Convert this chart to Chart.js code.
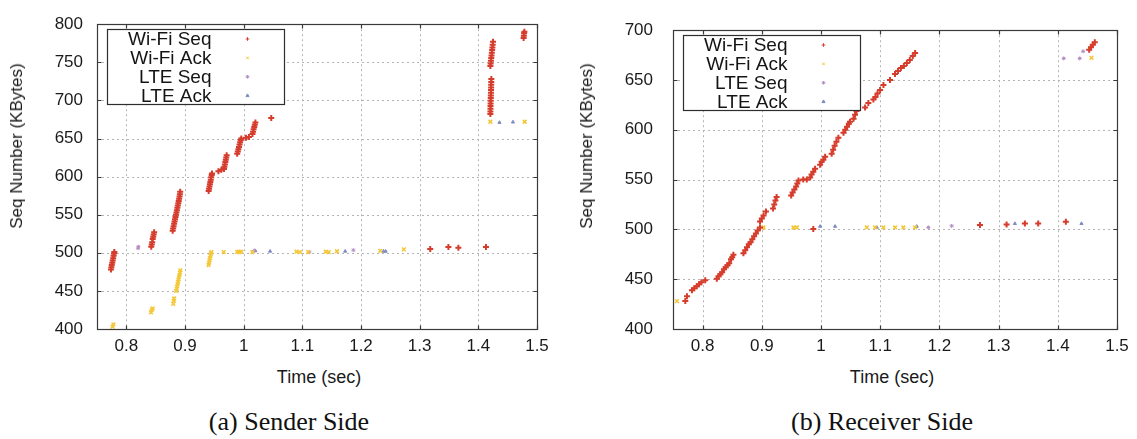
<!DOCTYPE html>
<html>
<head>
<meta charset="utf-8">
<script src="https://cdn.jsdelivr.net/npm/chart.js@4.4.1/dist/chart.umd.min.js"></script>
<style>
  html, body { margin:0; padding:0; background:#fff; }
  body { width:1137px; height:439px; position:relative; overflow:hidden; font-family:"Liberation Sans", Arial, sans-serif; color:#1a1a1a; }
  canvas { position:absolute; top:0; }
  #c1 { left:0; }
  #c2 { left:576px; }
  .ytitle { position:absolute; font-size:17px; white-space:nowrap; transform:translate(-50%,-50%) rotate(-90deg); }
  .xtitle { position:absolute; font-size:18px; white-space:nowrap; transform:translate(-50%,-50%); }
  .caption { position:absolute; font-family:"Liberation Serif", "Times New Roman", serif; font-size:26px; white-space:nowrap; transform:translate(-50%,-50%); color:#111; }
</style>
</head>
<body>
<canvas id="c1" width="560" height="360"></canvas>
<canvas id="c2" width="561" height="360"></canvas>
<div class="ytitle" style="left:17px; top:146px;">Seq Number (KBytes)</div>
<div class="ytitle" style="left:587px; top:146px;">Seq Number (KBytes)</div>
<div class="xtitle" style="left:319px; top:377px;">Time (sec)</div>
<div class="xtitle" style="left:892px; top:377px;">Time (sec)</div>
<div class="caption" style="left:289px; top:422px;">(a) Sender Side</div>
<div class="caption" style="left:882px; top:422px;">(b) Receiver Side</div>
<script>
// ---------- data ----------
const seriesNames = ['Wi-Fi Seq', 'Wi-Fi Ack', 'LTE Seq', 'LTE Ack'];
const xTickValues = [0.8, 0.9, 1.0, 1.1, 1.2, 1.3, 1.4, 1.5];
const xTickLabels = ['0.8', '0.9', '1', '1.1', '1.2', '1.3', '1.4', '1.5'];
const senderYTicks = [400, 450, 500, 550, 600, 650, 700, 750, 800];
const receiverYTicks = [400, 450, 500, 550, 600, 650, 700];

// Sender side: [time (s), seq (KB)]
const senderWifiSeq = [
  [0.7738,478],[0.7745,481],[0.7752,484],[0.7760,487],[0.7768,490],[0.7775,493],[0.7783,496],[0.7790,499],[0.7796,501],
  [0.8425,508],[0.8433,511],[0.8441,514],[0.8450,518],[0.8458,521],[0.8466,524],[0.8474,527],
  [0.8790,529],[0.8798,532],[0.8806,535],[0.8814,538],[0.8822,541],[0.8830,544],[0.8838,547],[0.8846,550],[0.8854,553],
  [0.8862,556],[0.8870,559],[0.8878,562],[0.8886,565],[0.8893,568],[0.8900,571],[0.8907,574],[0.8913,577],[0.8918,580],
  [0.9403,581],[0.9410,584],[0.9418,587],[0.9425,590],[0.9432,593],[0.9440,596],[0.9447,599],[0.9455,602],[0.9460,604],
  [0.9570,607],[0.9620,609],
  [0.9665,610],[0.9672,613],[0.9680,616],[0.9688,619],[0.9695,622],[0.9703,625],[0.9710,628],
  [0.9890,630],[0.9900,633],[0.9910,636],[0.9920,639],[0.9930,642],[0.9940,645],[0.9950,648],[0.9960,650],
  [1.0040,651],[1.0090,652],
  [1.0150,656],[1.0160,659],[1.0170,662],[1.0180,665],[1.0190,668],[1.0200,671],
  [1.0470,677],
  [1.3180,505],[1.3490,507.5],[1.3660,506.5],[1.4130,507.5],
  [1.4205,682],[1.4206,685.5],[1.4207,689],[1.4208,692.5],[1.4209,696],[1.4210,699.5],[1.4212,703],[1.4213,706.5],
  [1.4215,710],[1.4216,713.5],[1.4218,717],[1.4219,720.5],[1.4221,724],[1.4222,728],
  [1.4205,745],[1.4210,748.5],[1.4215,752],[1.4220,755.5],[1.4225,759],[1.4230,762.5],[1.4235,766],[1.4240,769.5],[1.4245,773],[1.4250,777],
  [1.4772,782],[1.4776,785],[1.4780,788],[1.4785,790]
];
const senderWifiAck = [
  [0.7765,403],[0.7780,406],
  [0.8420,422],[0.8435,425],[0.8450,427],
  [0.8800,433],[0.8808,437],[0.8815,440],
  [0.8850,450],[0.8858,453],[0.8866,456],[0.8874,459],[0.8882,462],[0.8890,465],[0.8898,468],[0.8906,471],[0.8914,474],[0.8922,477],
  [0.9402,484],[0.9410,487],[0.9418,490],[0.9426,493],[0.9434,496],[0.9442,499],[0.9450,501],
  [0.9660,501],[0.9890,501],[0.9910,501.5],[0.9930,501],[0.9960,501.5],[1.0150,501],[1.0900,501.5],[1.0960,501],
  [1.1100,501],[1.1400,501.5],[1.1450,501],[1.1590,502],[1.2330,502.5],[1.2730,504.5],
  [1.4205,672],[1.4790,672]
];
const senderLteSeq = [
  [0.8200,506],[0.8205,508],[1.0180,503],[1.1120,501],[1.1870,503.5]
];
const senderLteAck = [
  [1.0200,502.5],[1.0450,502],[1.1730,502],[1.2385,502],[1.2420,502],[1.4360,671],[1.4590,671.5]
];

// Receiver side: [time (s), seq (KB)]
const receiverWifiSeq = [
  [0.7708,428],[0.7736,433],
  [0.7820,439],[0.7860,441],[0.7900,443],[0.7940,445],[0.7980,447],[0.8045,449],
  [0.8240,450.5],[0.8270,453],[0.8300,455],[0.8330,457],[0.8360,460],[0.8390,462],[0.8420,464],[0.8450,466],[0.8480,470],[0.8500,472],[0.8520,474.5],
  [0.8690,476],[0.8720,479],[0.8750,482],[0.8780,485],[0.8810,487],[0.8840,490],[0.8870,493],[0.8900,496],[0.8930,499],[0.8970,502],
  [0.8970,508],[0.9000,511],[0.9030,514],[0.9070,518],
  [0.9190,521],[0.9210,525],[0.9230,529],[0.9250,532.5],
  [0.9496,534],[0.9520,537],[0.9550,540],[0.9580,543],[0.9600,546],[0.9620,549],
  [0.9700,550],[0.9760,550],
  [0.9817,552],[0.9840,555],[0.9870,558],[0.9900,561],
  [0.9870,500.3],
  [0.9985,565],[1.0010,568],[1.0040,570],[1.0070,573],
  [1.0180,576],[1.0205,580],[1.0230,584],[1.0260,588],[1.0294,592],
  [1.0380,597],[1.0410,600],[1.0440,603],[1.0470,606],[1.0490,608],
  [1.0550,611],[1.0575,615],[1.0600,619],
  [1.0745,622.5],[1.0800,627],
  [1.0885,630.5],[1.0920,633],[1.0955,636.5],[1.0998,640],
  [1.1055,645],[1.1166,650],
  [1.1250,656],[1.1300,659],[1.1350,662],[1.1400,664],[1.1450,667],[1.1500,670],[1.1550,674],[1.1590,677],
  [1.2685,504.5],[1.3135,505],[1.3444,505.8],[1.3669,505.8],[1.4136,507.8],
  [1.4530,680.4],[1.4560,683],[1.4590,685.5],[1.4625,687.8]
];
const receiverWifiAck = [
  [0.7567,428],
  [0.9029,501.9],[0.9535,501.9],[0.9592,501.9],[1.0773,502],[1.0913,502],[1.1053,502],[1.1251,502],[1.1391,502],[1.1588,502],
  [1.4569,672.3]
];
const receiverLteSeq = [
  [1.1813,502],[1.2207,503.5],[1.4100,671.7],[1.4370,671.7],[1.4428,678.8]
];
const receiverLteAck = [
  [0.9985,503],[1.0238,503],[1.0942,502],[1.1617,503],[1.3275,505.8],[1.4400,505.8]
];

// ---------- styles ----------
const seriesStyle = [
  { color:'#d63c2c', pointStyle:'cross',    radius:3,   borderWidth:2 },
  { color:'#f3c83a', pointStyle:'crossRot', radius:2.6, borderWidth:1.6 },
  { color:'#b48cc4', pointStyle:'star',     radius:2,   borderWidth:1 },
  { color:'#7d8cc4', pointStyle:'triangle', radius:1.8, borderWidth:1 }
];

const gnuplotFrame = {
  id: 'gnuplotFrame',
  beforeDatasetsDraw(chart) {
    const { ctx, chartArea: a, scales: { x, y } } = chart;
    ctx.save();
    ctx.strokeStyle = '#b4b4b4';
    ctx.lineWidth = 1;
    ctx.setLineDash([2, 3]);
    x.ticks.forEach(t => {
      const px = Math.round(x.getPixelForValue(t.value)) + 0.5;
      if (px > a.left + 1 && px < a.right - 1) {
        ctx.beginPath(); ctx.moveTo(px, a.top); ctx.lineTo(px, a.bottom); ctx.stroke();
      }
    });
    y.ticks.forEach(t => {
      const py = Math.round(y.getPixelForValue(t.value)) + 0.5;
      if (py > a.top + 1 && py < a.bottom - 1) {
        ctx.beginPath(); ctx.moveTo(a.left, py); ctx.lineTo(a.right, py); ctx.stroke();
      }
    });
    ctx.restore();
  },
  afterDatasetsDraw(chart) {
    const { ctx, chartArea: a, scales: { x, y } } = chart;
    ctx.save();
    ctx.strokeStyle = '#3a3a3a';
    ctx.lineWidth = 1.2;
    ctx.setLineDash([]);
    const L = Math.round(a.left) + 0.5, R = Math.round(a.right) + 0.5;
    const T = Math.round(a.top) + 0.5, B = Math.round(a.bottom) + 0.5;
    ctx.strokeRect(L, T, R - L, B - T);
    const tl = 4;
    ctx.beginPath();
    x.ticks.forEach(t => {
      const px = Math.round(x.getPixelForValue(t.value)) + 0.5;
      ctx.moveTo(px, B); ctx.lineTo(px, B - tl);
      ctx.moveTo(px, T); ctx.lineTo(px, T + tl);
    });
    y.ticks.forEach(t => {
      const py = Math.round(y.getPixelForValue(t.value)) + 0.5;
      ctx.moveTo(L, py); ctx.lineTo(L + tl, py);
      ctx.moveTo(R, py); ctx.lineTo(R - tl, py);
    });
    ctx.stroke();
    ctx.restore();
  }
};

const gnuplotLegend = {
  id: 'gnuplotLegend',
  afterDraw(chart) {
    const { ctx, chartArea: a } = chart;
    const bx = Math.round(a.left + 10) + 0.5, by = Math.round(a.top + 5) + 0.5;
    const bw = 177, bh = 75;
    ctx.save();
    ctx.fillStyle = '#ffffff';
    ctx.fillRect(bx, by, bw, bh);
    ctx.strokeStyle = '#2e2e2e';
    ctx.lineWidth = 1.2;
    ctx.strokeRect(bx, by, bw, bh);
    ctx.font = '19px "Liberation Sans", Arial, sans-serif';
    ctx.textAlign = 'right';
    ctx.textBaseline = 'middle';
    chart.data.datasets.forEach((ds, i) => {
      const cy = by + 9.5 + i * 18.9;
      ctx.fillStyle = '#141414';
      ctx.fillText(ds.label, bx + 104, cy + 1);
      const st = seriesStyle[i];
      ctx.strokeStyle = st.color;
      ctx.fillStyle = st.color;
      ctx.lineWidth = 1;
      Chart.helpers.drawPoint(ctx, { pointStyle: st.pointStyle, radius: 1.8, rotation: 0, borderWidth: 1 }, bx + 140, cy);
    });
    ctx.restore();
  }
};

function makeDatasets(list) {
  return list.map((pts, i) => ({
    label: seriesNames[i],
    data: pts.map(p => ({ x: p[0], y: p[1] })),
    showLine: false,
    pointStyle: seriesStyle[i].pointStyle,
    pointRadius: seriesStyle[i].radius,
    pointBorderWidth: seriesStyle[i].borderWidth,
    borderColor: seriesStyle[i].color,
    backgroundColor: seriesStyle[i].color
  }));
}

function makeChart(id, datasets, yTicks, yPadding, rightPad) {
  return new Chart(document.getElementById(id), {
    type: 'scatter',
    data: { datasets },
    plugins: [gnuplotFrame, gnuplotLegend],
    options: {
      responsive: false,
      animation: false,
      devicePixelRatio: 1,
      layout: { padding: { top: 18, right: rightPad, left: 0, bottom: 0 } },
      plugins: { legend: { display: false }, tooltip: { enabled: false } },
      scales: {
        x: {
          type: 'linear',
          min: 0.75, max: 1.5,
          afterBuildTicks: s => { s.ticks = xTickValues.map(v => ({ value: v })); },
          afterFit: s => { s.height = 31; },
          grid: { display: false, drawTicks: false },
          border: { display: false },
          ticks: {
            padding: 7,
            color: '#1a1a1a',
            font: { family: 'Liberation Sans', size: 17 },
            maxRotation: 0, autoSkip: false,
            callback: (v) => xTickLabels[xTickValues.indexOf(v)]
          }
        },
        y: {
          type: 'linear',
          min: yTicks[0], max: yTicks[yTicks.length - 1],
          afterBuildTicks: s => { s.ticks = yTicks.map(v => ({ value: v })); },
          afterFit: s => { s.width = 97; },
          grid: { display: false, drawTicks: false },
          border: { display: false },
          ticks: {
            padding: yPadding,
            color: '#1a1a1a',
            font: { family: 'Liberation Sans', size: 17 },
            autoSkip: false,
            callback: (v) => String(v)
          }
        }
      }
    }
  });
}

makeChart('c1', makeDatasets([senderWifiSeq, senderWifiAck, senderLteSeq, senderLteAck]), senderYTicks, 14, 23);
makeChart('c2', makeDatasets([receiverWifiSeq, receiverWifiAck, receiverLteSeq, receiverLteAck]), receiverYTicks, 20, 20);
</script>
</body>
</html>
